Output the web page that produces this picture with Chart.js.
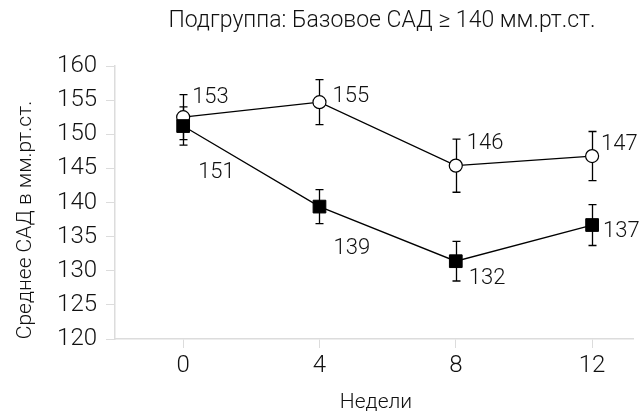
<!DOCTYPE html>
<html>
<head>
<meta charset="utf-8">
<script src="https://cdn.jsdelivr.net/npm/chart.js@4.4.1/dist/chart.umd.min.js"></script>
<style>
  html, body { margin: 0; padding: 0; background: #fff; }
  #wrap { width: 643px; height: 411px; }
</style>
</head>
<body>
<div id="wrap"><canvas id="chart" width="643" height="411"></canvas></div>
<script>
// ── Data ───────────────────────────────────────────────
const WEEKS        = [0, 4, 8, 12];
const X_TICKS      = [0, 4, 8, 12];
const Y_TICKS      = [120, 125, 130, 135, 140, 145, 150, 155, 160];

// open circles
const CIRCLE_MEAN  = [152.5, 154.7, 145.4, 146.8];
const CIRCLE_ERR   = [3.3, 3.3, 3.9, 3.6];
const CIRCLE_TEXT  = ['153', '155', '146', '147'];

// filled squares
const SQUARE_MEAN  = [151.2, 139.4, 131.4, 136.7];
const SQUARE_ERR   = [2.8, 2.5, 2.9, 3.0];
const SQUARE_TEXT  = ['151', '139', '132', '137'];

const TITLE   = 'Подгруппа: Базовое САД ≥ 140 мм.рт.ст.';
const Y_TITLE = 'Среднее САД в мм.рт.ст.';
const X_TITLE = 'Недели';

// label offsets from the marker (text left edge, text middle)
const CIRCLE_OFFS = [[9, -20], [13, -6], [11, -22], [9, -12]];
const SQUARE_OFFS = [[15, 46], [14, 42], [13, 17], [11, 6]];

// ── Helpers ────────────────────────────────────────────
const FONT = 'Roboto, "DejaVu Sans", sans-serif';
const toPoints = (xs, ys) => xs.map((x, i) => ({ x, y: ys[i] }));

Chart.defaults.font.family = FONT;
Chart.defaults.font.weight = 300;
Chart.defaults.color = '#111';

// error bars under the markers
const errorBars = {
  id: 'errorBars',
  beforeDatasetsDraw(chart) {
    const { ctx, scales: { x, y } } = chart;
    ctx.save();
    ctx.strokeStyle = '#000';
    ctx.lineWidth = 1.3;
    chart.data.datasets.forEach(ds => {
      ds.data.forEach((p, i) => {
        const px  = Math.round(x.getPixelForValue(p.x)) + 0.5;
        const top = y.getPixelForValue(p.y + ds.errors[i]);
        const bot = y.getPixelForValue(p.y - ds.errors[i]);
        ctx.beginPath();
        ctx.moveTo(px, top); ctx.lineTo(px, bot);
        ctx.moveTo(px - 4, top); ctx.lineTo(px + 4, top);
        ctx.moveTo(px - 4, bot); ctx.lineTo(px + 4, bot);
        ctx.stroke();
      });
    });
    ctx.restore();
  }
};

// value labels, title and axis titles
const textLayer = {
  id: 'textLayer',
  afterDatasetsDraw(chart) {
    const { ctx, scales: { x, y } } = chart;
    ctx.save();
    ctx.fillStyle = '#111';
    ctx.textAlign = 'left';
    ctx.textBaseline = 'middle';
    ctx.font = '300 22px ' + FONT;
    chart.data.datasets.forEach(ds => {
      ds.data.forEach((p, i) => {
        const px = x.getPixelForValue(p.x);
        const py = y.getPixelForValue(p.y);
        ctx.fillText(ds.texts[i], px + ds.offs[i][0], py + ds.offs[i][1]);
      });
    });

    ctx.textAlign = 'center';
    ctx.textBaseline = 'alphabetic';
    ctx.font = '300 23px ' + FONT;
    ctx.fillText(TITLE, 382, 27);

    ctx.font = '300 21px ' + FONT;
    ctx.fillText(X_TITLE, 376, 408);

    ctx.font = '300 21px ' + FONT;
    ctx.translate(31, 220);
    ctx.rotate(-Math.PI / 2);
    ctx.fillText(Y_TITLE, 0, 0);
    ctx.restore();
  }
};

// ── Chart ──────────────────────────────────────────────
new Chart(document.getElementById('chart'), {
  type: 'line',
  data: {
    datasets: [
      {
        label: 'squares',
        data: toPoints(WEEKS, SQUARE_MEAN),
        errors: SQUARE_ERR, texts: SQUARE_TEXT, offs: SQUARE_OFFS,
        borderColor: '#000', borderWidth: 1.3,
        pointStyle: 'rect', pointRadius: 9,
        pointBackgroundColor: '#000', pointBorderColor: '#000', pointBorderWidth: 1
      },
      {
        label: 'circles',
        data: toPoints(WEEKS, CIRCLE_MEAN),
        errors: CIRCLE_ERR, texts: CIRCLE_TEXT, offs: CIRCLE_OFFS,
        borderColor: '#000', borderWidth: 1.3,
        pointStyle: 'circle', pointRadius: 6.5,
        pointBackgroundColor: '#fff', pointBorderColor: '#000', pointBorderWidth: 1.2
      }
    ]
  },
  options: {
    responsive: false,
    animation: false,
    devicePixelRatio: 1,
    layout: { padding: { top: 66, right: 8, left: 0, bottom: 0 } },
    plugins: { legend: { display: false }, tooltip: { enabled: false } },
    scales: {
      x: {
        type: 'linear', min: -2, max: 13.2,
        afterBuildTicks: s => { s.ticks = X_TICKS.map(v => ({ value: v })); },
        afterFit: s => { s.height = 72; },
        grid: { drawOnChartArea: false, drawTicks: true, tickLength: 9, color: '#dcdcdc' },
        border: { color: '#dcdcdc', width: 1.5 },
        ticks: { font: { size: 24, weight: 300 }, padding: 4, color: '#111' }
      },
      y: {
        min: 120, max: 160,
        afterBuildTicks: s => { s.ticks = Y_TICKS.map(v => ({ value: v })); },
        afterFit: s => { s.width = 115; },
        grid: { drawOnChartArea: false, drawTicks: true, tickLength: 9, color: '#dcdcdc' },
        border: { color: '#dcdcdc', width: 1.5 },
        ticks: { font: { size: 24, weight: 300 }, padding: 9, color: '#111' }
      }
    }
  },
  plugins: [errorBars, textLayer]
});
</script>
</body>
</html>
